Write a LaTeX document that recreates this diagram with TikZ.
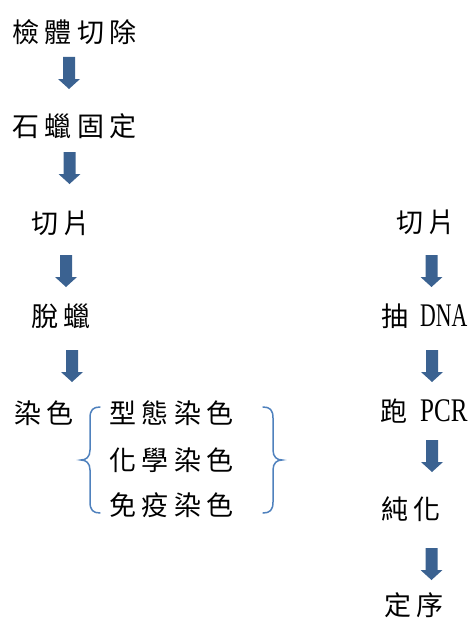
\documentclass[tikz,border=0pt]{standalone}
\usepackage{fontspec}
\setmainfont{Liberation Serif}
\newfontfamily\cjk[LetterSpace=20]{Noto Sans CJK TC}
\definecolor{arrowblue}{HTML}{3B6291}
\definecolor{braceblue}{HTML}{4F81BD}
\begin{document}
\begin{tikzpicture}[x=1pt,y=-1pt,
  lbl/.style={anchor=west,inner sep=0pt,font=\cjk\fontsize{27pt}{32pt}\selectfont},
  lat/.style={anchor=west,inner sep=0pt,font=\rmfamily\fontsize{33pt}{36pt}\selectfont},
  bracestyle/.style={draw=braceblue,line width=1.5pt,line cap=round},
  pics/barrow/.style={code={\fill[arrowblue] (-6,0) -- (6,0) -- (6,22) -- (11,22) -- (0,32) -- (-11,22) -- (-6,22) -- cycle;}}]
\useasboundingbox (0,0) rectangle (471,618);
% left column
\node[lbl] (a1) at (12,32) {檢體切除};
\node[lbl] (a2) at (12,126) {石蠟固定};
\node[lbl] (a3) at (31,223) {切片};
\node[lbl] (a4) at (31,316) {脫蠟};
\node[lbl] (a5) at (14,413) {染色};
\node[lbl] (s1) at (109,413) {型態染色};
\node[lbl] (s2) at (109,460) {化學染色};
\node[lbl] (s3) at (109,505) {免疫染色};
\pic at (69,57) {barrow};
\pic at (69.5,152) {barrow};
\pic at (66,255) {barrow};
\pic at (72,350) {barrow};
% braces
\draw[bracestyle] (100,407) .. controls (93,407) and (90,410) .. (90,418) -- (90,450) .. controls (90,457) and (86,460) .. (81,460) .. controls (86,460) and (90,463) .. (90,470) -- (90,502) .. controls (90,510) and (93,513) .. (100,513);
\draw[bracestyle] (263,407) .. controls (270,407) and (273,410) .. (273,418) -- (273,450) .. controls (273,457) and (277,460) .. (282,460) .. controls (277,460) and (273,463) .. (273,470) -- (273,502) .. controls (273,510) and (270,513) .. (263,513);
% right column
\node[lbl] (b1) at (396,222) {切片};
\node[lbl] (b2) at (381,316) {抽};
\node[lat] (b2l) at (420,316) {\scalebox{0.66}[1]{DNA}};
\node[lbl] (b3) at (380,411) {跑};
\node[lat] (b3l) at (420,411) {\scalebox{0.76}[1]{PCR}};
\node[lbl] (b4) at (381,509) {純化};
\node[lbl] (b5) at (384,605) {定序};
\pic at (431.5,255) {barrow};
\pic at (432,350) {barrow};
\pic at (432,440) {barrow};
\pic at (431.5,548) {barrow};
\end{tikzpicture}
\end{document}
